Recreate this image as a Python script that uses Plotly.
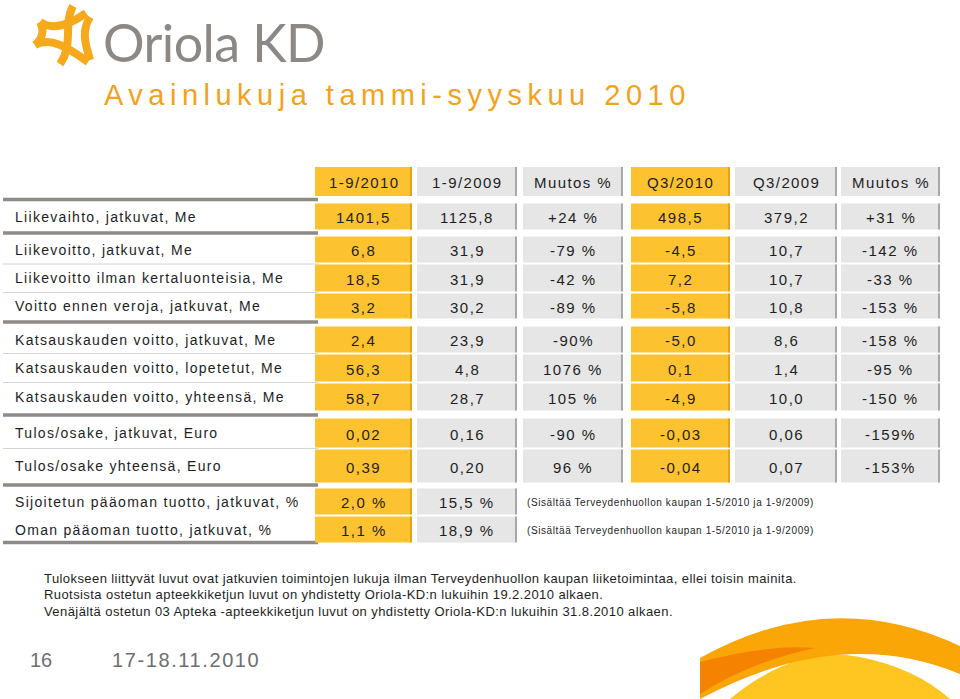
import plotly.graph_objects as go

# ---------------- data ----------------
col_headers = ["1-9/2010", "1-9/2009", "Muutos %", "Q3/2010", "Q3/2009", "Muutos %"]
row_labels = [
    "Liikevaihto, jatkuvat, Me",
    "Liikevoitto, jatkuvat, Me",
    "Liikevoitto ilman kertaluonteisia, Me",
    "Voitto ennen veroja, jatkuvat, Me",
    "Katsauskauden voitto, jatkuvat, Me",
    "Katsauskauden voitto, lopetetut, Me",
    "Katsauskauden voitto, yhteensä, Me",
    "Tulos/osake, jatkuvat, Euro",
    "Tulos/osake yhteensä, Euro",
    "Sijoitetun pääoman tuotto, jatkuvat, %",
    "Oman pääoman tuotto, jatkuvat, %",
]
ytd_2010 = ["1401,5", "6,8", "18,5", "3,2", "2,4", "56,3", "58,7", "0,02", "0,39", "2,0 %", "1,1 %"]
ytd_2009 = ["1125,8", "31,9", "31,9", "30,2", "23,9", "4,8", "28,7", "0,16", "0,20", "15,5 %", "18,9 %"]
ytd_change = ["+24 %", "-79 %", "-42 %", "-89 %", "-90%", "1076 %", "105 %", "-90 %", "96 %"]
q3_2010 = ["498,5", "-4,5", "7,2", "-5,8", "-5,0", "0,1", "-4,9", "-0,03", "-0,04"]
q3_2009 = ["379,2", "10,7", "10,7", "10,8", "8,6", "1,4", "10,0", "0,06", "0,07"]
q3_change = ["+31 %", "-142 %", "-33 %", "-153 %", "-158 %", "-95 %", "-150 %", "-159%", "-153%"]
row_notes = ["", "", "", "", "", "", "", "", "",
             "(Sisältää Terveydenhuollon kaupan 1-5/2010 ja 1-9/2009)",
             "(Sisältää Terveydenhuollon kaupan 1-5/2010 ja 1-9/2009)"]
title = "Avainlukuja tammi-syyskuu 2010"
logo_text = "Oriola KD"
footnotes = [
    "Tulokseen liittyvät luvut ovat jatkuvien toimintojen lukuja ilman Terveydenhuollon kaupan liiketoimintaa, ellei toisin mainita.",
    "Ruotsista ostetun apteekkiketjun luvut on yhdistetty Oriola-KD:n lukuihin 19.2.2010 alkaen.",
    "Venäjältä ostetun 03 Apteka -apteekkiketjun luvut on yhdistetty Oriola-KD:n lukuihin 31.8.2010 alkaen.",
]
page_no = "16"
date_text = "17-18.11.2010"

columns = [ytd_2010, ytd_2009, ytd_change, q3_2010, q3_2009, q3_change]

# ---------------- layout geometry (pixels) ----------------
W, H = 960, 699
col_left = [315, 417, 523, 631, 735, 841]
col_right = [412, 517, 623, 730, 837, 940]
col_fill = ["#FDC22F", "#E6E6E6", "#E6E6E6", "#FDC22F", "#E6E6E6", "#E6E6E6"]
col_edge = ["#E0A41C", "#A8A8A8", "#A8A8A8", "#E0A41C", "#A8A8A8", "#A8A8A8"]
header_top, header_bot = 167, 196
row_top = [203, 236, 264, 293, 326, 354, 383, 418, 449, 488, 516]
row_bot = [230, 263, 292, 319, 353, 382, 411, 448, 483, 515, 543]
thick_y = [199.5, 233, 322, 415, 485, 542.5]
thin_y = [264, 292.5, 353.5, 382.5, 448.5]

FONT = "Liberation Sans, Arial, Helvetica, sans-serif"
TXT = "#1E1E1E"


def ls(text, px):
    return f'<span style="letter-spacing:{px}px">{text}</span>'


fig = go.Figure()
fig.add_trace(go.Scatter(x=[0, W], y=[0, H], mode="markers",
                         marker=dict(opacity=0), hoverinfo="skip", showlegend=False))

shapes = []
ann = []


def cell(x0, x1, y0, y1, fill, edge):
    shapes.append(dict(type="rect", x0=x0, x1=x1, y0=y0, y1=y1,
                       fillcolor=fill, line=dict(width=0), layer="below"))
    shapes.append(dict(type="rect", x0=x1 - 2, x1=x1, y0=y0, y1=y1,
                       fillcolor=edge, line=dict(width=0), layer="below"))


# separator lines on the label side
for y in thick_y:
    shapes.append(dict(type="line", x0=3, x1=318, y0=y, y1=y,
                       line=dict(color="#8E8A86", width=3.5), layer="below"))
for y in thin_y:
    shapes.append(dict(type="line", x0=3, x1=318, y0=y, y1=y,
                       line=dict(color="#D4D4D4", width=1), layer="below"))

# header
for c, head in enumerate(col_headers):
    cell(col_left[c], col_right[c], header_top, header_bot, col_fill[c], col_edge[c])
    ann.append(dict(x=(col_left[c] + col_right[c]) / 2, y=(header_top + header_bot) / 2 + 1,
                    text=ls(head, 1.4), font=dict(family=FONT, size=15, color=TXT),
                    xanchor="center", yanchor="middle", showarrow=False))

# body
for r, label in enumerate(row_labels):
    yc = (row_top[r] + row_bot[r]) / 2
    ann.append(dict(x=13, y=yc, text=ls(label, 1.3),
                    font=dict(family=FONT, size=14, color=TXT),
                    xanchor="left", yanchor="middle", showarrow=False))
    for c, vals in enumerate(columns):
        if r >= len(vals):
            continue
        cell(col_left[c], col_right[c], row_top[r] + 0.5, row_bot[r] - 0.5,
             col_fill[c], col_edge[c])
        ann.append(dict(x=(col_left[c] + col_right[c]) / 2, y=yc + 1,
                        text=ls(vals[r], 1.5), font=dict(family=FONT, size=15, color=TXT),
                        xanchor="center", yanchor="middle", showarrow=False))
    if row_notes[r]:
        ann.append(dict(x=525, y=yc + 1, text=ls(row_notes[r], 0.6),
                        font=dict(family=FONT, size=10, color=TXT),
                        xanchor="left", yanchor="middle", showarrow=False))

# title
ann.append(dict(x=102, y=95, text=ls(title, 5.5),
                font=dict(family=FONT, size=29, color="#F3A21C"),
                xanchor="left", yanchor="middle", showarrow=False))

# logo
ann.append(dict(x=101, y=42, text=ls(logo_text, -0.6),
                font=dict(family="Lato, " + FONT, size=52, color="#8D8883", weight=400),
                xanchor="left", yanchor="middle", showarrow=False))
logo_paths = [
    "M 40,22 C 52,30 68,26 86,13",
    "M 73,6 C 63,24 74,44 60,64",
    "M 35,45 C 50,37 66,46 88,62",
    "M 90,17 C 80,33 87,48 90,60",
    "M 40,22 C 45,31 42,39 35,45",
]
for p in logo_paths:
    shapes.append(dict(type="path", path=p, line=dict(color="#F6A91B", width=8)))

# footnotes
for i, t in enumerate(footnotes):
    ann.append(dict(x=42, y=578 + i * 16.5, text=ls(t, 0.42),
                    font=dict(family=FONT, size=13, color=TXT),
                    xanchor="left", yanchor="middle", showarrow=False))

# footer
ann.append(dict(x=28, y=660, text=page_no, font=dict(family=FONT, size=20, color="#6E6E6E"),
                xanchor="left", yanchor="middle", showarrow=False))
ann.append(dict(x=110, y=660, text=ls(date_text, 1.6), font=dict(family=FONT, size=20, color="#6E6E6E"),
                xanchor="left", yanchor="middle", showarrow=False))

# decorative swoosh bottom-right
shapes.append(dict(type="path", path="M 730,699 Q 795,645 860,657 Q 915,668 950,699 Z",
                   fillcolor="#FFC520", line=dict(width=0)))
shapes.append(dict(type="path", path="M 700,658 Q 830,585 960,646 L 960,674 Q 840,624 700,699 Z",
                   fillcolor="#F9A606", line=dict(width=0)))
shapes.append(dict(type="path", path="M 700,662 Q 770,644 815,648 Q 750,662 700,694 Z",
                   fillcolor="#F58200", line=dict(width=0)))

fig.update_layout(
    width=W, height=H,
    margin=dict(l=0, r=0, t=0, b=0),
    paper_bgcolor="white", plot_bgcolor="white",
    xaxis=dict(range=[0, W], visible=False, fixedrange=True),
    yaxis=dict(range=[H, 0], visible=False, fixedrange=True),
    shapes=shapes, annotations=ann, showlegend=False,
)

fig.write_html("out.html", config={"displayModeBar": False},
               post_script="document.body.style.margin='0px';")
